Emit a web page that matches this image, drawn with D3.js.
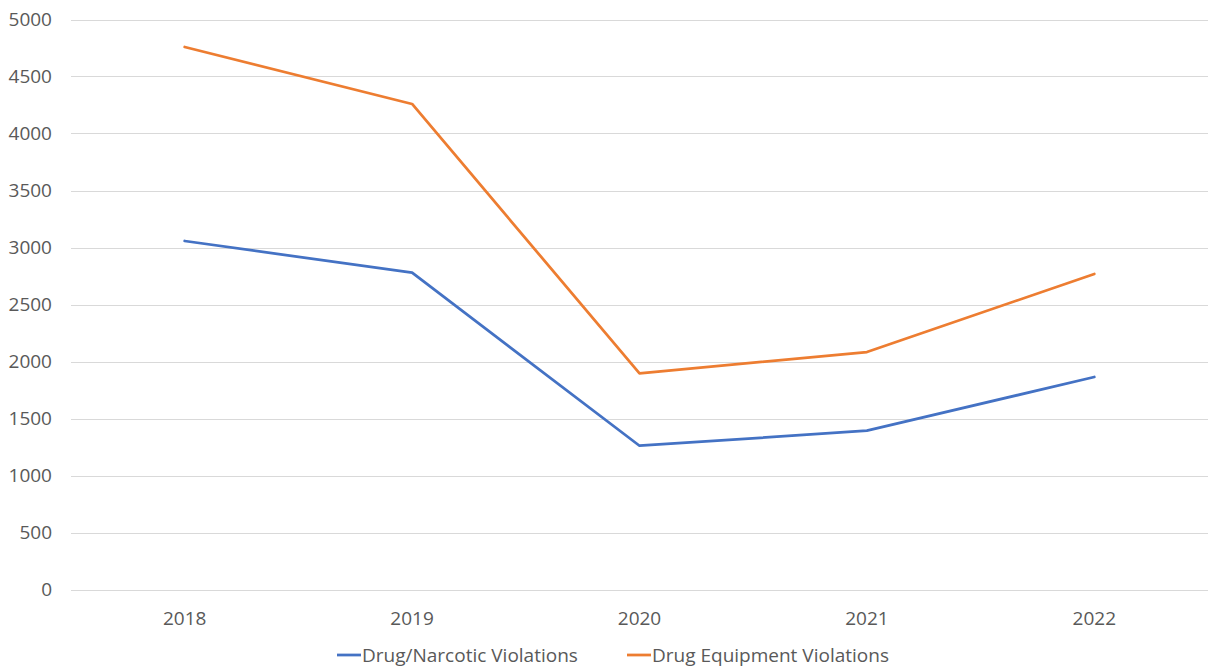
<!DOCTYPE html>
<html>
  <head>
    <script src="https://d3js.org/d3.v7.min.js"></script>
    <style>
      body, html { margin: 0; padding: 0; background: #fff; overflow: hidden; }
      text { font-family: "Open Sans", sans-serif; fill: #595959; }
    </style>
  </head>
  <body>
    <svg id="chart" width="1209" height="671"></svg>
    <script>
      var years = ["2018", "2019", "2020", "2021", "2022"];
      var narcotic = [3057, 2779, 1261, 1393, 1864];
      var equipment = [4759, 4259, 1896, 2083, 2768];
      var yTicks = [0, 500, 1000, 1500, 2000, 2500, 3000, 3500, 4000, 4500, 5000];
      var seriesNames = ["Drug/Narcotic Violations", "Drug Equipment Violations"];
      var colors = ["#4472C4", "#ED7D31"];

      var svg = d3.select("#chart");
      var plotLeft = 71, plotRight = 1208, plotTop = 19.5, plotBottom = 589.5;

      var x = d3.scaleBand().domain(years).range([plotLeft, plotRight]);
      var y = d3.scaleLinear().domain([0, 5000]).range([plotBottom, plotTop]);

      // gridlines
      svg.append("g")
        .selectAll("line")
        .data(yTicks)
        .enter()
        .append("line")
        .attr("x1", plotLeft)
        .attr("x2", plotRight)
        .attr("y1", function (d) { return Math.round(y(d)) + 0.5; })
        .attr("y2", function (d) { return Math.round(y(d)) + 0.5; })
        .attr("stroke", "#d9d9d9")
        .attr("stroke-width", 1);

      // y labels
      svg.append("g")
        .selectAll("text")
        .data(yTicks)
        .enter()
        .append("text")
        .attr("x", 52)
        .attr("y", function (d) { return y(d); })
        .attr("dy", "0.35em")
        .attr("text-anchor", "end")
        .style("font-size", "19px")
        .text(function (d) { return d; });

      // x labels
      svg.append("g")
        .selectAll("text")
        .data(years)
        .enter()
        .append("text")
        .attr("x", function (d) { return x(d) + x.bandwidth() / 2; })
        .attr("y", 618)
        .attr("dy", "0.35em")
        .attr("text-anchor", "middle")
        .style("font-size", "19px")
        .text(function (d) { return d; });

      var line = d3.line()
        .x(function (d, i) { return x(years[i]) + x.bandwidth() / 2; })
        .y(function (d) { return y(d); });

      [narcotic, equipment].forEach(function (s, i) {
        svg.append("path")
          .datum(s)
          .attr("d", line)
          .attr("fill", "none")
          .attr("stroke", colors[i])
          .attr("stroke-width", 2.75)
          .attr("stroke-linejoin", "round")
          .attr("stroke-linecap", "round");
      });

      // legend
      var legendX = [337, 627];
      seriesNames.forEach(function (name, i) {
        var g = svg.append("g").attr("transform", "translate(" + legendX[i] + ",655)");
        g.append("line")
          .attr("x1", 0).attr("x2", 24)
          .attr("stroke", colors[i])
          .attr("stroke-width", 2.75);
        g.append("text")
          .attr("x", 25)
          .attr("dy", "0.35em")
          .style("font-size", "19px")
          .text(name);
      });
    </script>
  </body>
</html>
